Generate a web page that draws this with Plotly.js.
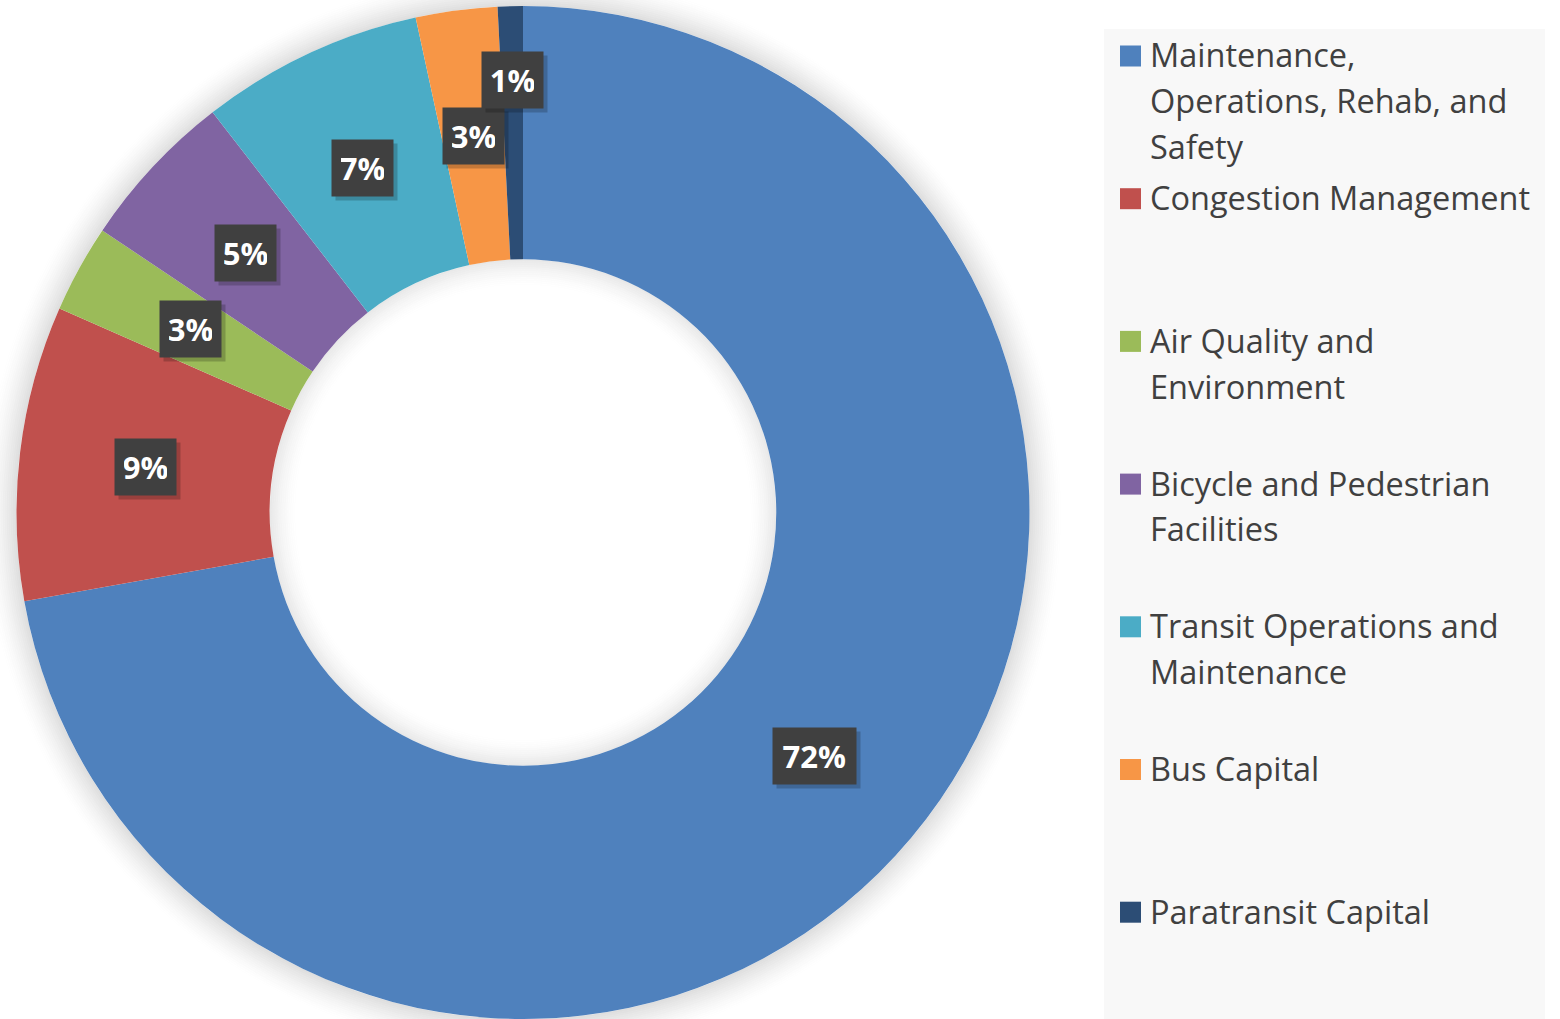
<!DOCTYPE html>
<html>
<head>
<meta charset="utf-8">
<script src="https://cdn.plot.ly/plotly-3.0.1.min.js"></script>
<style>html,body{margin:0;padding:0;background:#fff;}#chart{width:1560px;height:1019px;}</style>
</head>
<body>
<div id="chart"></div>
<script>
// ---- data ----
const categories = [
  "Maintenance, Operations, Rehab, and Safety",
  "Congestion Management",
  "Air Quality and Environment",
  "Bicycle and Pedestrian Facilities",
  "Transit Operations and Maintenance",
  "Bus Capital",
  "Paratransit Capital"
];
// legend text, wrapped as in the reference
const legendLines = [
  ["Maintenance,", "Operations, Rehab, and", "Safety"],
  ["Congestion Management"],
  ["Air Quality and", "Environment"],
  ["Bicycle and Pedestrian", "Facilities"],
  ["Transit Operations and", "Maintenance"],
  ["Bus Capital"],
  ["Paratransit Capital"]
];
const shares = [72.2, 9.4, 2.8, 5.1, 7.1, 2.6, 0.8];
const colors = ["#4f81bd", "#c0504d", "#9bbb59", "#8064a2", "#4bacc6", "#f79646", "#2c4d75"];

// ---- layout geometry ----
const W = 1560, H = 1019;
const domX = [16 / W, 1030 / W];
const domY = [0, 1 - 6 / H];
const hole = 0.5;
const FONT = "Open Sans, sans-serif";

const cx = (domX[0] + domX[1]) / 2 * W;
const cyTop = (1 - (domY[0] + domY[1]) / 2) * H;
const R = Math.min((domX[1] - domX[0]) * W, (domY[1] - domY[0]) * H) / 2;
const Rin = R * hole;

const total = shares.reduce((a, b) => a + b, 0);
const annotations = [];
const shapes = [{
  type: "rect", xref: "paper", yref: "paper",
  x0: 1104 / W, x1: 1545 / W, y0: 0, y1: 1 - 29 / H,
  fillcolor: "#f8f8f8", line: {width: 0}, layer: "below"
}];

// soft shadow around the ring (decoration, drawn under the pie)
function ring(r, alpha) {
  shapes.push({
    type: "circle", xref: "paper", yref: "paper", layer: "below",
    x0: (cx - r) / W, x1: (cx + r) / W, y0: 1 - (cyTop + r) / H, y1: 1 - (cyTop - r) / H,
    fillcolor: "rgba(0,0,0,0)", line: {width: 2, color: "rgba(0,0,0," + alpha.toFixed(4) + ")"}
  });
}
for (let d = 0; d < 32; d += 2) {
  const f = Math.pow(1 - d / 34, 1.6);
  ring(R + d + 1, 0.13 * f);
  if (d < 26) ring(Rin - d - 1, 0.09 * Math.pow(1 - d / 28, 1.6));
}

// data labels (boxed percentages)
let cum = 0;
shares.forEach((v, i) => {
  const pct = v / total * 100;
  const mid = (cum + v / 2) / total * 2 * Math.PI;
  cum += v;
  const rr = pct < 1.5 ? R * 0.855 : R * (1 + hole) / 2;
  const px = cx + rr * Math.sin(mid);
  const py = cyTop - rr * Math.cos(mid);
  const txt = Math.round(pct) + "%";
  const bw = txt.length * 21.5;
  const base = {
    x: px / W, y: 1 - py / H, xref: "paper", yref: "paper",
    xanchor: "center", yanchor: "middle", showarrow: false,
    width: bw, height: 38, borderpad: 9
  };
  annotations.push(Object.assign({}, base, {
    text: "&nbsp;", xshift: 4, yshift: -4, bgcolor: "rgba(0,0,0,0.2)",
    font: {family: FONT, size: 10, color: "rgba(0,0,0,0)"}
  }));
  annotations.push(Object.assign({}, base, {
    text: "<b>" + txt + "</b>", bgcolor: "#404040",
    font: {family: FONT, size: 31, color: "#ffffff"}
  }));
});

// legend (Excel-style: fixed slot per entry)
const slotTop = 55, slotStep = 142.7, lineStep = 45.8;
legendLines.forEach((lines, i) => {
  const y0 = slotTop + i * slotStep;
  shapes.push({
    type: "rect", xref: "paper", yref: "paper",
    x0: 1120 / W, x1: 1141 / W,
    y0: 1 - (y0 - 9.5) / H, y1: 1 - (y0 + 11.5) / H,
    fillcolor: colors[i], line: {width: 0}
  });
  lines.forEach((ln, k) => {
    annotations.push({
      x: 1148 / W, y: 1 - (y0 + k * lineStep) / H, xref: "paper", yref: "paper",
      xanchor: "left", yanchor: "middle", showarrow: false, align: "left",
      text: ln, borderpad: 1,
      font: {family: FONT, size: 32.5, color: "#404040"}
    });
  });
});

const trace = {
  type: "pie",
  labels: categories,
  values: shares,
  hole: hole,
  sort: false,
  direction: "clockwise",
  rotation: 0,
  textinfo: "none",
  hoverinfo: "label+percent",
  marker: {colors: colors, line: {width: 0}},
  domain: {x: domX, y: domY},
  showlegend: false
};

const layout = {
  width: W, height: H,
  margin: {l: 0, r: 0, t: 0, b: 0},
  paper_bgcolor: "#ffffff",
  showlegend: false,
  shapes: shapes,
  annotations: annotations
};

Plotly.newPlot("chart", [trace], layout, {displayModeBar: false, staticPlot: true});
</script>
</body>
</html>
